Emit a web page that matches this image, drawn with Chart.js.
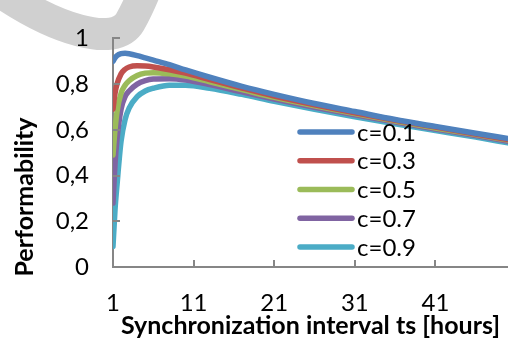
<!DOCTYPE html>
<html>
<head>
<meta charset="utf-8">
<script src="https://cdn.jsdelivr.net/npm/chart.js@4"></script>
<style>
    body { margin: 0; background: #fff; }
    #wrap { width: 508px; height: 342px; position: relative; }
</style>
</head>
<body>
<div id="wrap"><canvas id="perfChart"></canvas></div>
<script>
const xValues = [1, 1.25, 1.5, 2, 2.5, 3, 4, 5, 6, 8, 10, 13, 17, 21, 26, 31, 36, 41, 46, 50];

const seriesLabels = ["c=0.1", "c=0.3", "c=0.5", "c=0.7", "c=0.9"];
const seriesColors = ["#4F81BD", "#C0504D", "#9BBB59", "#8064A2", "#4BACC6"];

const perfC01 = [0.90, 0.915, 0.925, 0.933, 0.935, 0.933, 0.925, 0.915, 0.905, 0.885, 0.862, 0.83, 0.79, 0.755, 0.715, 0.68, 0.645, 0.615, 0.585, 0.562];
const perfC03 = [0.69, 0.76, 0.80, 0.845, 0.865, 0.875, 0.88, 0.879, 0.875, 0.863, 0.848, 0.82, 0.783, 0.748, 0.71, 0.675, 0.642, 0.612, 0.582, 0.558];
const perfC05 = [0.49, 0.60, 0.68, 0.76, 0.795, 0.815, 0.838, 0.848, 0.85, 0.845, 0.835, 0.81, 0.776, 0.742, 0.705, 0.671, 0.638, 0.608, 0.579, 0.555];
const perfC07 = [0.28, 0.45, 0.56, 0.69, 0.745, 0.77, 0.80, 0.815, 0.822, 0.824, 0.818, 0.798, 0.766, 0.735, 0.699, 0.666, 0.634, 0.604, 0.575, 0.55];
const perfC09 = [0.09, 0.25, 0.36, 0.55, 0.645, 0.695, 0.745, 0.77, 0.782, 0.795, 0.795, 0.782, 0.755, 0.725, 0.69, 0.657, 0.626, 0.597, 0.568, 0.543];

const xTickValues = [1, 11, 21, 31, 41];
const yTickValues = [0, 0.2, 0.4, 0.6, 0.8, 1];
const yTickLabels = ["0", "0,2", "0,4", "0,6", "0,8", "1"];

const xTitle = "Synchronization interval ts [hours]";
const yTitle = "Performability";

const allSeries = [perfC01, perfC03, perfC05, perfC07, perfC09];
const axisGray = "#868686";

Chart.defaults.font.family = "Lato, 'Liberation Sans', sans-serif";
Chart.defaults.color = "#000";

// grey swoosh in the top-left corner, behind everything
const swooshPlugin = {
    id: "swoosh",
    beforeDraw(chart) {
        const ctx = chart.ctx;
        ctx.save();
        ctx.strokeStyle = "#d0d0d0";
        ctx.lineWidth = 32;
        ctx.beginPath();
        ctx.moveTo(-5, -12);
        ctx.bezierCurveTo(55, 30, 115, 48, 130, 22);
        ctx.quadraticCurveTo(138, 8, 146, -12);
        ctx.stroke();
        ctx.restore();
    }
};

// inward tick marks, axis titles and the legend inside the plot
const decorPlugin = {
    id: "decor",
    afterDraw(chart) {
        const ctx = chart.ctx;
        const xs = chart.scales.x;
        const ys = chart.scales.y;
        const area = chart.chartArea;

        ctx.save();
        ctx.strokeStyle = axisGray;
        ctx.lineWidth = 2;
        ctx.beginPath();
        xTickValues.forEach(v => {
            const px = Math.round(xs.getPixelForValue(v));
            ctx.moveTo(px, area.bottom);
            ctx.lineTo(px, area.bottom - 7);
        });
        yTickValues.forEach(v => {
            const py = Math.round(ys.getPixelForValue(v));
            ctx.moveTo(area.left, py);
            ctx.lineTo(area.left + 7, py);
        });
        ctx.stroke();

        // axis titles
        ctx.fillStyle = "#000";
        ctx.font = "bold 25px Lato";
        ctx.textAlign = "center";
        ctx.textBaseline = "middle";
        ctx.fillText(xTitle, (area.left + area.right) / 2, 326);

        ctx.save();
        ctx.translate(25, 197);
        ctx.rotate(-Math.PI / 2);
        ctx.fillText(yTitle, 0, 0);
        ctx.restore();

        // legend
        ctx.font = "24px Lato";
        ctx.textAlign = "left";
        ctx.lineCap = "round";
        chart.data.datasets.forEach((ds, i) => {
            const rowY = 132 + i * 28.75;
            ctx.strokeStyle = ds.borderColor;
            ctx.lineWidth = 5.5;
            ctx.beginPath();
            ctx.moveTo(300, rowY);
            ctx.lineTo(352, rowY);
            ctx.stroke();
            ctx.fillText(ds.label, 357, rowY + 1);
        });
        ctx.restore();
    }
};

const datasets = seriesLabels.map((label, i) => ({
    label: label,
    data: xValues.map((x, j) => ({ x: x, y: allSeries[i][j] })),
    borderColor: seriesColors[i],
    backgroundColor: seriesColors[i],
    borderWidth: 5.5,
    borderCapStyle: "round",
    pointRadius: 0,
    cubicInterpolationMode: "monotone",
    fill: false
}));

new Chart(document.getElementById("perfChart"), {
    type: "line",
    data: { datasets: datasets },
    options: {
        responsive: true,
        maintainAspectRatio: false,
        animation: false,
        layout: { padding: { top: 19, right: 0, bottom: 0, left: 0 } },
        plugins: {
            legend: { display: false },
            tooltip: { enabled: false }
        },
        scales: {
            x: {
                type: "linear",
                min: 1,
                max: 50,
                grid: { drawOnChartArea: false, drawTicks: false },
                border: { display: true, color: axisGray, width: 2 },
                afterBuildTicks: (scale) => {
                    scale.ticks = xTickValues.map(v => ({ value: v }));
                },
                afterFit: (scale) => { scale.height = 75; },
                ticks: {
                    padding: 22,
                    maxRotation: 0,
                    autoSkip: false,
                    font: { size: 24 },
                    color: "#000"
                }
            },
            y: {
                min: 0,
                max: 1,
                grid: { drawOnChartArea: false, drawTicks: false },
                border: { display: true, color: axisGray, width: 2 },
                afterBuildTicks: (scale) => {
                    scale.ticks = yTickValues.map(v => ({ value: v }));
                },
                afterFit: (scale) => { scale.width = 113; },
                ticks: {
                    padding: 24,
                    font: { size: 24 },
                    color: "#000",
                    callback: (value, index) => yTickLabels[index]
                }
            }
        }
    },
    plugins: [swooshPlugin, decorPlugin]
});
</script>
</body>
</html>
